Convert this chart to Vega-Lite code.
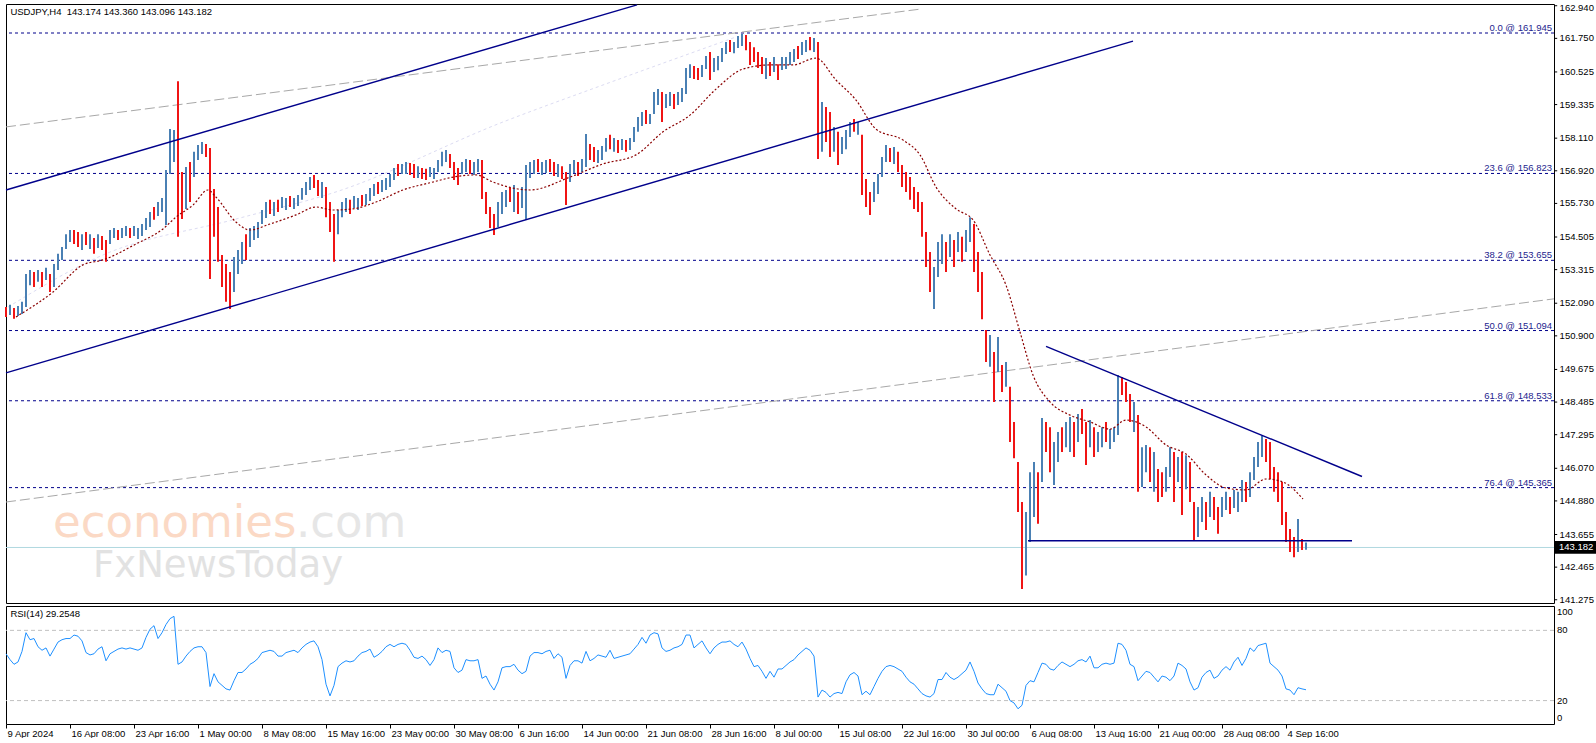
{
  "$schema": "https://vega.github.io/schema/vega-lite/v6.json",
  "background": "white",
  "padding": {"left": 3, "top": 2, "right": 0, "bottom": 0},
  "spacing": 3,
  "bounds": "flush",
  "datasets": {
    "bars": [
      {"i":0,"h":151.95,"l":151.59,"d":0,"r":60},{"i":2,"h":152.03,"l":151.66,"d":1,"r":55},{"i":4,"h":151.92,"l":151.52,"d":0,"r":51},{"i":6,"h":151.99,"l":151.62,"d":1,"r":53},{"i":8,"h":152.14,"l":151.7,"d":1,"r":62},
      {"i":10,"h":153.16,"l":151.95,"d":1,"r":78},{"i":12,"h":153.3,"l":152.75,"d":1,"r":72},{"i":14,"h":153.23,"l":152.68,"d":0,"r":73},{"i":16,"h":153.3,"l":152.87,"d":1,"r":66},{"i":18,"h":153.23,"l":152.68,"d":0,"r":63},
      {"i":20,"h":153.38,"l":152.94,"d":1,"r":65},{"i":22,"h":153.16,"l":152.5,"d":0,"r":58},{"i":24,"h":153.52,"l":152.68,"d":1,"r":64},{"i":26,"h":153.89,"l":153.3,"d":1,"r":70},{"i":28,"h":154.14,"l":153.67,"d":1,"r":72},
      {"i":30,"h":154.61,"l":154.07,"d":1,"r":73},{"i":32,"h":154.76,"l":154.32,"d":1,"r":73},{"i":34,"h":154.76,"l":154.25,"d":0,"r":76},{"i":36,"h":154.69,"l":154.14,"d":0,"r":75},{"i":38,"h":154.61,"l":154.03,"d":1,"r":71},
      {"i":40,"h":154.69,"l":154.21,"d":0,"r":61},{"i":42,"h":154.61,"l":154.07,"d":1,"r":59},{"i":44,"h":154.47,"l":153.89,"d":0,"r":60},{"i":46,"h":154.61,"l":154.1,"d":1,"r":64},{"i":48,"h":154.54,"l":154.03,"d":0,"r":66},
      {"i":50,"h":154.4,"l":153.6,"d":0,"r":54},{"i":52,"h":154.76,"l":154.25,"d":1,"r":60},{"i":54,"h":154.83,"l":154.47,"d":1,"r":62},{"i":56,"h":154.76,"l":154.4,"d":0,"r":64},{"i":58,"h":154.83,"l":154.47,"d":1,"r":65},
      {"i":60,"h":154.91,"l":154.54,"d":1,"r":64},{"i":62,"h":154.83,"l":154.47,"d":0,"r":65},{"i":64,"h":154.91,"l":154.54,"d":1,"r":64},{"i":66,"h":154.83,"l":154.43,"d":1,"r":63},{"i":68,"h":154.98,"l":154.54,"d":1,"r":65},
      {"i":70,"h":155.2,"l":154.76,"d":1,"r":74},{"i":72,"h":155.42,"l":154.87,"d":1,"r":81},{"i":74,"h":155.6,"l":155.13,"d":0,"r":84},{"i":76,"h":155.78,"l":155.27,"d":1,"r":73},{"i":78,"h":155.93,"l":155.42,"d":1,"r":78},
      {"i":80,"h":156.95,"l":154.94,"d":1,"r":85},{"i":82,"h":158.44,"l":156.8,"d":1,"r":90},{"i":84,"h":158.41,"l":157.24,"d":1,"r":92},{"i":86,"h":160.19,"l":154.51,"d":0,"r":51},{"i":88,"h":156.88,"l":155.16,"d":0,"r":53},
      {"i":90,"h":157.06,"l":155.53,"d":1,"r":58},{"i":92,"h":157.24,"l":155.78,"d":0,"r":62},{"i":94,"h":157.61,"l":156.69,"d":1,"r":65},{"i":96,"h":157.86,"l":157.31,"d":1,"r":66},{"i":98,"h":157.97,"l":157.53,"d":1,"r":66},
      {"i":100,"h":157.9,"l":157.42,"d":0,"r":61},{"i":102,"h":157.75,"l":152.97,"d":0,"r":32},{"i":104,"h":156.26,"l":154.51,"d":0,"r":43},{"i":106,"h":155.6,"l":153.6,"d":0,"r":36},{"i":108,"h":153.85,"l":152.68,"d":0,"r":33},
      {"i":110,"h":153.52,"l":152.14,"d":0,"r":30},{"i":112,"h":153.23,"l":151.88,"d":0,"r":29},{"i":114,"h":153.78,"l":152.5,"d":1,"r":37},{"i":116,"h":154.03,"l":153.16,"d":1,"r":44},{"i":118,"h":154.32,"l":153.52,"d":1,"r":44},
      {"i":120,"h":154.61,"l":153.67,"d":0,"r":47},{"i":122,"h":154.83,"l":154.14,"d":1,"r":51},{"i":124,"h":154.91,"l":154.4,"d":1,"r":53},{"i":126,"h":155.05,"l":154.47,"d":1,"r":56},{"i":128,"h":155.49,"l":154.98,"d":1,"r":61},
      {"i":130,"h":155.78,"l":155.2,"d":1,"r":62},{"i":132,"h":155.86,"l":155.34,"d":0,"r":63},{"i":134,"h":155.78,"l":155.27,"d":1,"r":62},{"i":136,"h":155.86,"l":155.42,"d":0,"r":58},{"i":138,"h":155.96,"l":155.56,"d":1,"r":58},
      {"i":140,"h":155.93,"l":155.49,"d":1,"r":61},{"i":142,"h":156.0,"l":155.6,"d":0,"r":62},{"i":144,"h":155.93,"l":155.53,"d":1,"r":63},{"i":146,"h":156.04,"l":155.64,"d":1,"r":61},{"i":148,"h":156.29,"l":155.86,"d":1,"r":65},
      {"i":150,"h":156.51,"l":156.04,"d":1,"r":68},{"i":152,"h":156.69,"l":156.22,"d":1,"r":70},{"i":154,"h":156.77,"l":156.29,"d":0,"r":71},{"i":156,"h":156.58,"l":156.0,"d":0,"r":66},{"i":158,"h":156.51,"l":155.93,"d":1,"r":55},
      {"i":160,"h":156.33,"l":155.23,"d":0,"r":34},{"i":162,"h":155.78,"l":154.69,"d":0,"r":24},{"i":164,"h":155.34,"l":153.6,"d":0,"r":33},{"i":166,"h":155.49,"l":154.61,"d":1,"r":49},{"i":168,"h":155.78,"l":155.23,"d":1,"r":52},
      {"i":170,"h":155.93,"l":155.42,"d":1,"r":54},{"i":172,"h":155.86,"l":155.34,"d":0,"r":53},{"i":174,"h":156.0,"l":155.56,"d":1,"r":54},{"i":176,"h":155.93,"l":155.49,"d":1,"r":58},{"i":178,"h":156.04,"l":155.64,"d":0,"r":61},
      {"i":180,"h":156.07,"l":155.67,"d":1,"r":62},{"i":182,"h":156.29,"l":155.82,"d":1,"r":64},{"i":184,"h":156.44,"l":156.0,"d":1,"r":57},{"i":186,"h":156.51,"l":156.07,"d":0,"r":59},{"i":188,"h":156.58,"l":156.15,"d":1,"r":62},
      {"i":190,"h":156.66,"l":156.22,"d":1,"r":66},{"i":192,"h":156.8,"l":156.33,"d":1,"r":68},{"i":194,"h":157.02,"l":156.58,"d":1,"r":66},{"i":196,"h":157.17,"l":156.73,"d":0,"r":68},{"i":198,"h":157.17,"l":156.8,"d":1,"r":69},
      {"i":200,"h":157.24,"l":156.8,"d":1,"r":68},{"i":202,"h":157.2,"l":156.77,"d":0,"r":63},{"i":204,"h":157.17,"l":156.66,"d":0,"r":57},{"i":206,"h":157.09,"l":156.66,"d":1,"r":56},{"i":208,"h":157.02,"l":156.62,"d":0,"r":58},
      {"i":210,"h":156.99,"l":156.58,"d":0,"r":55},{"i":212,"h":157.06,"l":156.69,"d":1,"r":50},{"i":214,"h":157.02,"l":156.62,"d":1,"r":55},{"i":216,"h":157.31,"l":156.88,"d":1,"r":65},{"i":218,"h":157.61,"l":157.09,"d":1,"r":61},
      {"i":220,"h":157.68,"l":157.24,"d":1,"r":63},{"i":222,"h":157.53,"l":157.02,"d":0,"r":62},{"i":224,"h":157.24,"l":156.58,"d":0,"r":48},{"i":226,"h":157.02,"l":156.4,"d":0,"r":44},{"i":228,"h":157.24,"l":156.8,"d":1,"r":46},
      {"i":230,"h":157.35,"l":156.88,"d":1,"r":55},{"i":232,"h":157.31,"l":156.8,"d":0,"r":54},{"i":234,"h":157.24,"l":156.77,"d":1,"r":54},{"i":236,"h":157.35,"l":156.88,"d":1,"r":55},{"i":238,"h":157.31,"l":155.89,"d":0,"r":39},
      {"i":240,"h":156.15,"l":155.34,"d":0,"r":41},{"i":242,"h":155.6,"l":154.83,"d":0,"r":34},{"i":244,"h":155.34,"l":154.58,"d":0,"r":29},{"i":246,"h":155.78,"l":154.87,"d":1,"r":36},{"i":248,"h":156.15,"l":155.34,"d":1,"r":48},
      {"i":250,"h":156.22,"l":155.6,"d":1,"r":49},{"i":252,"h":156.29,"l":155.78,"d":0,"r":49},{"i":254,"h":156.4,"l":155.42,"d":1,"r":51},{"i":256,"h":156.15,"l":155.34,"d":0,"r":46},{"i":258,"h":156.33,"l":155.56,"d":1,"r":43},
      {"i":260,"h":157.13,"l":155.13,"d":1,"r":45},{"i":262,"h":157.24,"l":156.66,"d":1,"r":58},{"i":264,"h":157.31,"l":156.8,"d":1,"r":61},{"i":266,"h":157.35,"l":156.88,"d":0,"r":61},{"i":268,"h":157.24,"l":156.77,"d":1,"r":60},
      {"i":270,"h":157.31,"l":156.84,"d":1,"r":62},{"i":272,"h":157.35,"l":156.88,"d":0,"r":63},{"i":274,"h":157.24,"l":156.73,"d":0,"r":56},{"i":276,"h":157.17,"l":156.69,"d":1,"r":60},{"i":278,"h":157.09,"l":156.62,"d":0,"r":57},
      {"i":280,"h":156.88,"l":155.67,"d":0,"r":39},{"i":282,"h":157.17,"l":156.51,"d":1,"r":50},{"i":284,"h":157.31,"l":156.84,"d":1,"r":54},{"i":286,"h":157.24,"l":156.73,"d":0,"r":54},{"i":288,"h":157.35,"l":156.88,"d":1,"r":52},
      {"i":290,"h":158.26,"l":157.06,"d":1,"r":62},{"i":292,"h":157.9,"l":157.31,"d":0,"r":54},{"i":294,"h":157.79,"l":157.24,"d":0,"r":56},{"i":296,"h":157.68,"l":157.2,"d":1,"r":59},{"i":298,"h":157.82,"l":157.31,"d":1,"r":58},
      {"i":300,"h":158.12,"l":157.61,"d":1,"r":57},{"i":302,"h":158.23,"l":157.71,"d":0,"r":63},{"i":304,"h":158.12,"l":157.61,"d":1,"r":56},{"i":306,"h":158.04,"l":157.57,"d":0,"r":57},{"i":308,"h":158.08,"l":157.68,"d":1,"r":58},
      {"i":310,"h":158.04,"l":157.61,"d":0,"r":59},{"i":312,"h":158.12,"l":157.68,"d":1,"r":60},{"i":314,"h":158.52,"l":157.97,"d":1,"r":64},{"i":316,"h":158.88,"l":158.34,"d":1,"r":68},{"i":318,"h":159.06,"l":158.55,"d":1,"r":74},
      {"i":320,"h":159.14,"l":158.63,"d":0,"r":69},{"i":322,"h":158.99,"l":158.63,"d":1,"r":76},{"i":324,"h":159.79,"l":158.99,"d":1,"r":78},{"i":326,"h":159.9,"l":159.32,"d":1,"r":77},{"i":328,"h":159.79,"l":158.7,"d":0,"r":65},
      {"i":330,"h":159.72,"l":159.21,"d":1,"r":62},{"i":332,"h":159.79,"l":159.28,"d":1,"r":63},{"i":334,"h":159.72,"l":159.17,"d":0,"r":65},{"i":336,"h":159.79,"l":159.32,"d":1,"r":66},{"i":338,"h":159.94,"l":159.43,"d":1,"r":68},
      {"i":340,"h":160.67,"l":159.72,"d":1,"r":76},{"i":342,"h":160.81,"l":160.3,"d":1,"r":76},{"i":344,"h":160.74,"l":160.27,"d":0,"r":65},{"i":346,"h":160.67,"l":160.23,"d":0,"r":68},{"i":348,"h":160.78,"l":160.34,"d":1,"r":71},
      {"i":350,"h":161.11,"l":160.63,"d":1,"r":65},{"i":352,"h":161.25,"l":160.23,"d":0,"r":60},{"i":354,"h":161.03,"l":160.52,"d":1,"r":65},{"i":356,"h":161.11,"l":160.59,"d":1,"r":68},{"i":358,"h":161.4,"l":160.89,"d":1,"r":70},
      {"i":360,"h":161.62,"l":161.18,"d":1,"r":70},{"i":362,"h":161.69,"l":161.25,"d":0,"r":71},{"i":364,"h":161.62,"l":161.21,"d":1,"r":68},{"i":366,"h":161.84,"l":161.4,"d":1,"r":66},{"i":368,"h":161.91,"l":161.47,"d":1,"r":70},
      {"i":370,"h":161.87,"l":161.32,"d":0,"r":64},{"i":372,"h":161.62,"l":160.78,"d":0,"r":56},{"i":374,"h":161.43,"l":160.89,"d":0,"r":49},{"i":376,"h":161.25,"l":160.67,"d":0,"r":50},{"i":378,"h":161.07,"l":160.45,"d":0,"r":45},
      {"i":380,"h":161.03,"l":160.27,"d":1,"r":39},{"i":382,"h":160.89,"l":160.38,"d":0,"r":45},{"i":384,"h":161.07,"l":160.52,"d":1,"r":40},{"i":386,"h":160.81,"l":160.23,"d":0,"r":47},{"i":388,"h":161.07,"l":160.6,"d":1,"r":47},
      {"i":390,"h":161.07,"l":160.63,"d":1,"r":50},{"i":392,"h":161.25,"l":160.78,"d":1,"r":53},{"i":394,"h":161.36,"l":160.89,"d":1,"r":55},{"i":396,"h":161.47,"l":161.0,"d":0,"r":59},{"i":398,"h":161.62,"l":161.14,"d":1,"r":62},
      {"i":400,"h":161.69,"l":161.25,"d":1,"r":65},{"i":402,"h":161.8,"l":161.32,"d":0,"r":63},{"i":404,"h":161.76,"l":161.25,"d":1,"r":58},{"i":406,"h":161.62,"l":157.35,"d":0,"r":23},{"i":408,"h":159.43,"l":157.61,"d":1,"r":29},
      {"i":410,"h":159.25,"l":157.97,"d":0,"r":27},{"i":412,"h":159.06,"l":157.42,"d":0,"r":23},{"i":414,"h":158.52,"l":157.61,"d":1,"r":26},{"i":416,"h":158.34,"l":157.13,"d":0,"r":27},{"i":418,"h":158.15,"l":157.53,"d":1,"r":26},
      {"i":420,"h":158.41,"l":157.71,"d":1,"r":36},{"i":422,"h":158.7,"l":158.15,"d":1,"r":42},{"i":424,"h":158.81,"l":158.34,"d":0,"r":44},{"i":426,"h":158.7,"l":158.23,"d":1,"r":41},{"i":428,"h":158.23,"l":156.04,"d":0,"r":25},
      {"i":430,"h":156.62,"l":155.6,"d":0,"r":28},{"i":432,"h":156.15,"l":155.31,"d":0,"r":25},{"i":434,"h":156.51,"l":155.78,"d":1,"r":32},{"i":436,"h":156.8,"l":156.07,"d":1,"r":39},{"i":438,"h":157.42,"l":156.69,"d":1,"r":45},
      {"i":440,"h":157.86,"l":157.24,"d":1,"r":49},{"i":442,"h":157.75,"l":157.24,"d":0,"r":50},{"i":444,"h":157.79,"l":157.17,"d":1,"r":49},{"i":446,"h":157.61,"l":156.88,"d":0,"r":47},{"i":448,"h":157.13,"l":156.33,"d":0,"r":45},
      {"i":450,"h":156.88,"l":156.15,"d":0,"r":40},{"i":452,"h":156.69,"l":155.86,"d":0,"r":36},{"i":454,"h":156.33,"l":155.53,"d":0,"r":34},{"i":456,"h":156.15,"l":155.42,"d":0,"r":30},{"i":458,"h":155.78,"l":154.51,"d":0,"r":26},
      {"i":460,"h":154.69,"l":153.41,"d":0,"r":24},{"i":462,"h":153.96,"l":152.5,"d":0,"r":23},{"i":464,"h":153.41,"l":151.88,"d":1,"r":26},{"i":466,"h":154.32,"l":153.05,"d":1,"r":38},{"i":468,"h":154.61,"l":153.52,"d":1,"r":38},
      {"i":470,"h":154.32,"l":153.23,"d":0,"r":44},{"i":472,"h":154.61,"l":153.78,"d":1,"r":40},{"i":474,"h":154.4,"l":153.41,"d":0,"r":38},{"i":476,"h":154.69,"l":153.96,"d":1,"r":40},{"i":478,"h":154.51,"l":153.6,"d":0,"r":43},
      {"i":480,"h":154.76,"l":153.96,"d":1,"r":46},{"i":482,"h":155.23,"l":154.32,"d":1,"r":53},{"i":484,"h":154.98,"l":153.23,"d":0,"r":45},{"i":486,"h":153.96,"l":152.5,"d":0,"r":35},{"i":488,"h":153.23,"l":151.51,"d":0,"r":30},
      {"i":490,"h":151.11,"l":149.95,"d":0,"r":26},{"i":492,"h":150.93,"l":149.77,"d":1,"r":25},{"i":494,"h":150.31,"l":148.49,"d":0,"r":25},{"i":496,"h":150.86,"l":149.58,"d":1,"r":34},{"i":498,"h":149.84,"l":148.85,"d":0,"r":31},
      {"i":500,"h":149.95,"l":149.04,"d":1,"r":28},{"i":502,"h":149.04,"l":147.03,"d":0,"r":20},{"i":504,"h":147.76,"l":146.44,"d":0,"r":18},{"i":506,"h":146.3,"l":144.48,"d":0,"r":13},{"i":508,"h":144.84,"l":141.67,"d":0,"r":16},
      {"i":510,"h":144.48,"l":142.16,"d":1,"r":33},{"i":512,"h":145.93,"l":143.38,"d":1,"r":37},{"i":514,"h":146.3,"l":144.29,"d":1,"r":36},{"i":516,"h":145.93,"l":144.05,"d":0,"r":44},{"i":518,"h":147.9,"l":145.57,"d":1,"r":52},
      {"i":520,"h":147.76,"l":146.66,"d":0,"r":51},{"i":522,"h":147.57,"l":145.93,"d":0,"r":47},{"i":524,"h":147.03,"l":145.46,"d":1,"r":46},{"i":526,"h":147.39,"l":146.3,"d":1,"r":50},{"i":528,"h":147.57,"l":146.66,"d":0,"r":53},
      {"i":530,"h":147.76,"l":146.84,"d":1,"r":51},{"i":532,"h":147.94,"l":146.66,"d":1,"r":49},{"i":534,"h":147.76,"l":146.48,"d":0,"r":51},{"i":536,"h":148.05,"l":147.03,"d":1,"r":54},{"i":538,"h":148.23,"l":147.32,"d":0,"r":55},
      {"i":540,"h":147.76,"l":146.19,"d":0,"r":53},{"i":542,"h":147.83,"l":146.84,"d":1,"r":58},{"i":544,"h":147.57,"l":146.48,"d":0,"r":48},{"i":546,"h":147.39,"l":146.66,"d":1,"r":48},{"i":548,"h":147.57,"l":146.84,"d":1,"r":51},
      {"i":550,"h":147.76,"l":147.03,"d":0,"r":52},{"i":552,"h":147.5,"l":146.77,"d":1,"r":51},{"i":554,"h":147.57,"l":147.03,"d":1,"r":52},{"i":556,"h":149.47,"l":147.28,"d":1,"r":69},{"i":558,"h":149.4,"l":148.74,"d":0,"r":68},
      {"i":560,"h":149.22,"l":148.49,"d":0,"r":63},{"i":562,"h":148.78,"l":147.76,"d":0,"r":51},{"i":564,"h":148.49,"l":147.39,"d":1,"r":49},{"i":566,"h":148.01,"l":145.21,"d":0,"r":37},{"i":568,"h":146.84,"l":145.39,"d":1,"r":41},
      {"i":570,"h":146.92,"l":145.93,"d":1,"r":45},{"i":572,"h":146.84,"l":145.57,"d":0,"r":44},{"i":574,"h":146.66,"l":145.21,"d":1,"r":40},{"i":576,"h":146.04,"l":144.84,"d":0,"r":36},{"i":578,"h":145.93,"l":145.02,"d":0,"r":41},
      {"i":580,"h":146.12,"l":145.21,"d":1,"r":40},{"i":582,"h":146.84,"l":145.75,"d":1,"r":37},{"i":584,"h":146.66,"l":144.84,"d":0,"r":41},{"i":586,"h":146.48,"l":145.57,"d":1,"r":52},{"i":588,"h":146.66,"l":144.37,"d":0,"r":50},
      {"i":590,"h":146.55,"l":145.31,"d":1,"r":47},{"i":592,"h":146.3,"l":144.84,"d":0,"r":36},{"i":594,"h":144.84,"l":143.42,"d":0,"r":29},{"i":596,"h":144.66,"l":143.56,"d":1,"r":31},{"i":598,"h":145.02,"l":144.11,"d":1,"r":40},
      {"i":600,"h":144.84,"l":143.82,"d":0,"r":44},{"i":602,"h":145.21,"l":144.29,"d":1,"r":46},{"i":604,"h":145.02,"l":144.18,"d":0,"r":39},{"i":606,"h":144.66,"l":143.68,"d":0,"r":41},{"i":608,"h":145.02,"l":144.29,"d":1,"r":46},
      {"i":610,"h":145.21,"l":144.55,"d":1,"r":49},{"i":612,"h":145.02,"l":144.4,"d":0,"r":46},{"i":614,"h":145.28,"l":144.62,"d":1,"r":53},{"i":616,"h":145.21,"l":144.48,"d":1,"r":57},{"i":618,"h":145.64,"l":144.84,"d":1,"r":50},
      {"i":620,"h":145.57,"l":144.84,"d":0,"r":56},{"i":622,"h":145.93,"l":145.02,"d":1,"r":65},{"i":624,"h":146.48,"l":145.64,"d":1,"r":62},{"i":626,"h":147.03,"l":146.12,"d":1,"r":67},{"i":628,"h":147.25,"l":146.48,"d":1,"r":68},
      {"i":630,"h":147.14,"l":146.3,"d":0,"r":69},{"i":632,"h":147.03,"l":145.68,"d":0,"r":52},{"i":634,"h":146.12,"l":145.21,"d":0,"r":49},{"i":636,"h":145.93,"l":144.84,"d":0,"r":46},{"i":638,"h":145.57,"l":144.0,"d":0,"r":41},
      {"i":640,"h":144.48,"l":143.38,"d":0,"r":30},{"i":642,"h":143.86,"l":143.02,"d":0,"r":29},{"i":644,"h":143.56,"l":142.83,"d":0,"r":25},{"i":646,"h":144.22,"l":143.02,"d":1,"r":31},{"i":648,"h":143.49,"l":143.09,"d":0,"r":30},
      {"i":650,"h":143.36,"l":143.1,"d":1,"r":29.25}
    ],
    "ma": [
      {"i":5,"p":151.59},{"i":23.5,"p":152.5},{"i":38.5,"p":153.49},{"i":48.5,"p":153.67},{"i":65,"p":154.25},{"i":78.5,"p":154.8},{"i":85,"p":155.23},{"i":93.5,"p":155.67},{"i":101,"p":156.22},{"i":105,"p":155.96},{"i":115,"p":155.05},{"i":122,"p":154.76},{"i":132,"p":154.98},{"i":145,"p":155.31},{"i":155,"p":155.6},{"i":163.5,"p":155.49},{"i":173.5,"p":155.53},{"i":185,"p":155.78},{"i":198.5,"p":156.22},{"i":213.5,"p":156.51},{"i":223.5,"p":156.69},{"i":235,"p":156.77},{"i":243.5,"p":156.51},{"i":253.5,"p":156.29},{"i":262,"p":156.22},{"i":282,"p":156.69},{"i":298.5,"p":157.17},{"i":315,"p":157.5},{"i":328.5,"p":158.34},{"i":342,"p":158.95},{"i":355,"p":159.9},{"i":368.5,"p":160.63},{"i":382,"p":160.78},{"i":393.5,"p":160.78},{"i":405,"p":161.03},{"i":415,"p":160.23},{"i":425,"p":159.5},{"i":435,"p":158.44},{"i":448.5,"p":158.04},{"i":457,"p":157.5},{"i":465,"p":156.33},{"i":475,"p":155.53},{"i":483.5,"p":155.13},{"i":492,"p":153.85},{"i":500,"p":152.75},{"i":507,"p":151.04},{"i":513.5,"p":149.47},{"i":522,"p":148.49},{"i":532,"p":148.01},{"i":542,"p":147.76},{"i":552,"p":147.5},{"i":560,"p":147.83},{"i":570,"p":147.58},{"i":580,"p":146.92},{"i":590,"p":146.59},{"i":600,"p":145.83},{"i":610,"p":145.35},{"i":620,"p":145.28},{"i":630,"p":145.68},{"i":638.5,"p":145.57},{"i":648.5,"p":144.95}
    ],
    "lav": [
      {"i":1,"p":151.95},{"i":48.5,"p":153.85},{"i":115,"p":155.16},{"i":165,"p":156.15},{"i":248.5,"p":158.7},{"i":298.5,"p":160.05},{"i":365,"p":161.8}
    ],
    "fib": [
      {"lvl":161.945,"t":"0.0 @ 161.945"},
      {"lvl":156.823,"t":"23.6 @ 156.823"},
      {"lvl":153.655,"t":"38.2 @ 153.655"},
      {"lvl":151.094,"t":"50.0 @ 151.094"},
      {"lvl":148.533,"t":"61.8 @ 148.533"},
      {"lvl":145.365,"t":"76.4 @ 145.365"}
    ],
    "lines": [
      {"k":"chan","i":0,"p":156.22,"i2":315.5,"p2":162.97},
      {"k":"chan","i":0,"p":149.55,"i2":563.5,"p2":161.65},
      {"k":"chan","i":520,"p":150.52,"i2":678,"p2":145.77},
      {"k":"chan","i":511,"p":143.43,"i2":673,"p2":143.43},
      {"k":"gray","i":0,"p":158.52,"i2":457.5,"p2":162.82},
      {"k":"gray","i":0,"p":144.84,"i2":774,"p2":152.25}
    ],
    "notes": [
      {"k":"title","i":2.2,"p":162.59,"t":"USDJPY,H4\u00a0 143.174 143.360 143.096 143.182"},
      {"k":"eco","i":23.5,"p":143.56,"t":"economies"},
      {"k":"com","i":145,"p":143.56,"t":".com"},
      {"k":"fx","i":43.5,"p":142.11,"t":"FxNewsToday"}
    ],
    "yt": [
      {"v":162.94},{"v":161.75},{"v":160.525},{"v":159.335},{"v":158.11},{"v":156.92},{"v":155.73},{"v":154.505},{"v":153.315},{"v":152.09},
      {"v":150.9},{"v":149.675},{"v":148.485},{"v":147.295},{"v":146.07},{"v":144.88},{"v":143.655},{"v":142.465},{"v":141.275}
    ],
    "last": [{"p":143.182,"t":"143.182"}],
    "rsilv": [{"v":20},{"v":80}],
    "rt": [{"v":0},{"v":20},{"v":80},{"v":100}],
    "rsinote": [{"i":2.2,"r":91,"t":"RSI(14) 29.2548"}]
  },
  "vconcat": [
    {
      "width": 1548,
      "height": 599,
      "layer": [
        {
          "data": {"name": "fib"},
          "mark": {"type": "rule", "color": "#00008B", "strokeDash": [3, 3], "strokeWidth": 1},
          "encoding": {
            "y": {"field": "lvl", "type": "quantitative", "scale": {"domain": [141.157, 163.003], "nice": false, "zero": false}, "axis": null}
          }
        },
        {
          "data": {"name": "last"},
          "mark": {"type": "rule", "color": "#B0D8E0", "strokeWidth": 1},
          "encoding": {
            "y": {"field": "p", "type": "quantitative", "axis": null}
          }
        },
        {
          "data": {"name": "lines"},
          "transform": [{"filter": "datum.k == 'gray'"}],
          "mark": {"type": "rule", "color": "#A8A8A8", "strokeDash": [10, 4], "strokeWidth": 1},
          "encoding": {
            "x": {"field": "i", "type": "quantitative", "scale": {"domain": [0, 774], "nice": false, "zero": false}, "axis": null},
            "x2": {"field": "i2"},
            "y": {"field": "p", "type": "quantitative", "axis": null},
            "y2": {"field": "p2"}
          }
        },
        {
          "data": {"name": "lav"},
          "mark": {"type": "line", "color": "#DCDCF2", "strokeDash": [3, 3], "strokeWidth": 1, "interpolate": "monotone"},
          "encoding": {
            "x": {"field": "i", "type": "quantitative", "axis": null},
            "y": {"field": "p", "type": "quantitative", "axis": null}
          }
        },
        {
          "data": {"name": "notes"},
          "transform": [{"filter": "datum.k == 'eco'"}],
          "mark": {"type": "text", "font": "DejaVu Sans", "fontSize": 45, "align": "left", "baseline": "alphabetic", "color": "#FBD9C5"},
          "encoding": {
            "x": {"field": "i", "type": "quantitative", "axis": null},
            "y": {"field": "p", "type": "quantitative", "axis": null},
            "text": {"field": "t"}
          }
        },
        {
          "data": {"name": "notes"},
          "transform": [{"filter": "datum.k == 'com'"}],
          "mark": {"type": "text", "font": "DejaVu Sans", "fontSize": 45, "align": "left", "baseline": "alphabetic", "color": "#E6E6E6"},
          "encoding": {
            "x": {"field": "i", "type": "quantitative", "axis": null},
            "y": {"field": "p", "type": "quantitative", "axis": null},
            "text": {"field": "t"}
          }
        },
        {
          "data": {"name": "notes"},
          "transform": [{"filter": "datum.k == 'fx'"}],
          "mark": {"type": "text", "font": "DejaVu Sans", "fontSize": 37, "align": "left", "baseline": "alphabetic", "color": "#E2E2E2"},
          "encoding": {
            "x": {"field": "i", "type": "quantitative", "axis": null},
            "y": {"field": "p", "type": "quantitative", "axis": null},
            "text": {"field": "t"}
          }
        },
        {
          "data": {"name": "bars"},
          "mark": {"type": "rule", "strokeWidth": 2},
          "encoding": {
            "x": {"field": "i", "type": "quantitative", "axis": null},
            "y": {"field": "l", "type": "quantitative", "axis": null},
            "y2": {"field": "h"},
            "color": {"field": "d", "type": "nominal", "scale": {"domain": [0, 1], "range": ["#F01414", "#4A80B4"]}, "legend": null}
          }
        },
        {
          "data": {"name": "ma"},
          "mark": {"type": "line", "color": "#8B0000", "strokeDash": [2, 2], "strokeWidth": 1.2, "interpolate": "monotone"},
          "encoding": {
            "x": {"field": "i", "type": "quantitative", "axis": null},
            "y": {"field": "p", "type": "quantitative", "axis": null}
          }
        },
        {
          "data": {"name": "lines"},
          "transform": [{"filter": "datum.k == 'chan'"}],
          "mark": {"type": "rule", "color": "#00008B", "strokeWidth": 1.4},
          "encoding": {
            "x": {"field": "i", "type": "quantitative", "axis": null},
            "x2": {"field": "i2"},
            "y": {"field": "p", "type": "quantitative", "axis": null},
            "y2": {"field": "p2"}
          }
        },
        {
          "data": {"name": "fib"},
          "mark": {"type": "text", "font": "Liberation Sans", "fontSize": 9.5, "align": "right", "baseline": "alphabetic", "dy": -2, "color": "#24248E"},
          "encoding": {
            "x": {"datum": 773, "type": "quantitative", "axis": null},
            "y": {"field": "lvl", "type": "quantitative", "axis": null},
            "text": {"field": "t"}
          }
        },
        {
          "data": {"name": "notes"},
          "transform": [{"filter": "datum.k == 'title'"}],
          "mark": {"type": "text", "font": "Liberation Sans", "fontSize": 9.5, "align": "left", "baseline": "alphabetic", "color": "#000000"},
          "encoding": {
            "x": {"field": "i", "type": "quantitative", "axis": null},
            "y": {"field": "p", "type": "quantitative", "axis": null},
            "text": {"field": "t"}
          }
        },
        {
          "data": {"name": "yt"},
          "mark": {"type": "rule", "color": "#000000", "strokeWidth": 1, "clip": false},
          "encoding": {
            "x": {"datum": 774, "type": "quantitative", "axis": null},
            "x2": {"datum": 775.6},
            "y": {"field": "v", "type": "quantitative", "axis": null}
          }
        },
        {
          "data": {"name": "yt"},
          "transform": [{"filter": "datum.v < 162.5"}],
          "mark": {"type": "text", "font": "Liberation Sans", "fontSize": 9.5, "align": "left", "baseline": "middle", "color": "#000000", "clip": false},
          "encoding": {
            "x": {"datum": 776.8, "type": "quantitative", "axis": null},
            "y": {"field": "v", "type": "quantitative", "axis": null},
            "text": {"field": "v", "type": "quantitative", "format": ".3f"}
          }
        },
        {
          "data": {"name": "yt"},
          "transform": [{"filter": "datum.v > 162.5"}],
          "mark": {"type": "text", "font": "Liberation Sans", "fontSize": 9.5, "align": "left", "baseline": "middle", "dy": 2, "color": "#000000", "clip": false},
          "encoding": {
            "x": {"datum": 776.8, "type": "quantitative", "axis": null},
            "y": {"field": "v", "type": "quantitative", "axis": null},
            "text": {"field": "v", "type": "quantitative", "format": ".3f"}
          }
        },
        {
          "data": {"name": "last"},
          "mark": {"type": "rect", "color": "#000000", "clip": false},
          "encoding": {
            "x": {"datum": 774.5, "type": "quantitative", "axis": null},
            "x2": {"datum": 795.5},
            "y": {"datum": 143.42, "type": "quantitative", "axis": null},
            "y2": {"datum": 142.95}
          }
        },
        {
          "data": {"name": "last"},
          "mark": {"type": "text", "font": "Liberation Sans", "fontSize": 9.5, "align": "left", "baseline": "middle", "color": "#FFFFFF", "clip": false},
          "encoding": {
            "x": {"datum": 776.5, "type": "quantitative", "axis": null},
            "y": {"field": "p", "type": "quantitative", "axis": null},
            "text": {"field": "t"}
          }
        }
      ]
    },
    {
      "width": 1548,
      "height": 118,
      "layer": [
        {
          "data": {"name": "rsilv"},
          "mark": {"type": "rule", "color": "#C0C0C0", "strokeDash": [4, 3], "strokeWidth": 1},
          "encoding": {
            "y": {"field": "v", "type": "quantitative", "axis": null, "scale": {"domain": [0, 100.8], "nice": false, "zero": false}}
          }
        },
        {
          "data": {"name": "bars"},
          "mark": {"type": "line", "color": "#1E90FF", "strokeWidth": 1},
          "encoding": {
            "x": {
              "field": "i", "type": "quantitative",
              "scale": {"domain": [0, 774], "nice": false, "zero": false},
              "axis": {
                "orient": "bottom", "title": null, "domain": false,
                "values": [0, 32, 64, 96, 128, 160, 192, 224, 256, 288, 320, 352, 384, 416, 448, 480, 512, 544, 576, 608, 640],
                "labelExpr": "['9 Apr 2024','16 Apr 08:00','23 Apr 16:00','1 May 00:00','8 May 08:00','15 May 16:00','23 May 00:00','30 May 08:00','6 Jun 16:00','14 Jun 00:00','21 Jun 08:00','28 Jun 16:00','8 Jul 00:00','15 Jul 08:00','22 Jul 16:00','30 Jul 00:00','6 Aug 08:00','13 Aug 16:00','21 Aug 00:00','28 Aug 08:00','4 Sep 16:00'][round(datum.value / 32)]",
                "tickSize": 4, "labelAlign": "left", "labelBaseline": "top", "labelPadding": 0, "labelOffset": 1,
                "labelFlush": false, "labelOverlap": false, "labelBound": false
              }
            },
            "y": {"field": "r", "type": "quantitative", "axis": null}
          }
        },
        {
          "data": {"name": "rsinote"},
          "mark": {"type": "text", "font": "Liberation Sans", "fontSize": 9.5, "align": "left", "baseline": "alphabetic", "color": "#000000"},
          "encoding": {
            "x": {"field": "i", "type": "quantitative", "title": null},
            "y": {"field": "r", "type": "quantitative", "axis": null},
            "text": {"field": "t"}
          }
        },
        {
          "data": {"name": "rt"},
          "transform": [{"filter": "datum.v > 10 && datum.v < 90"}],
          "mark": {"type": "text", "font": "Liberation Sans", "fontSize": 9.5, "align": "left", "baseline": "middle", "color": "#000000", "clip": false},
          "encoding": {
            "x": {"datum": 775.5, "type": "quantitative", "title": null},
            "y": {"field": "v", "type": "quantitative", "axis": null},
            "text": {"field": "v", "type": "quantitative", "format": "d"}
          }
        },
        {
          "data": {"name": "rt"},
          "transform": [{"filter": "datum.v > 90"}],
          "mark": {"type": "text", "font": "Liberation Sans", "fontSize": 9.5, "align": "left", "baseline": "top", "color": "#000000", "clip": false},
          "encoding": {
            "x": {"datum": 775.5, "type": "quantitative", "title": null},
            "y": {"field": "v", "type": "quantitative", "axis": null},
            "text": {"field": "v", "type": "quantitative", "format": "d"}
          }
        },
        {
          "data": {"name": "rt"},
          "transform": [{"filter": "datum.v < 10"}],
          "mark": {"type": "text", "font": "Liberation Sans", "fontSize": 9.5, "align": "left", "baseline": "middle", "dy": -6, "color": "#000000", "clip": false},
          "encoding": {
            "x": {"datum": 775.5, "type": "quantitative", "title": null},
            "y": {"field": "v", "type": "quantitative", "axis": null},
            "text": {"field": "v", "type": "quantitative", "format": "d"}
          }
        }
      ]
    }
  ],
  "config": {
    "view": {"stroke": "#000000", "strokeWidth": 1},
    "axis": {"labelFont": "Liberation Sans", "labelFontSize": 9.5, "labelColor": "#000000", "tickColor": "#000000", "domainColor": "#000000", "grid": false}
  }
}
